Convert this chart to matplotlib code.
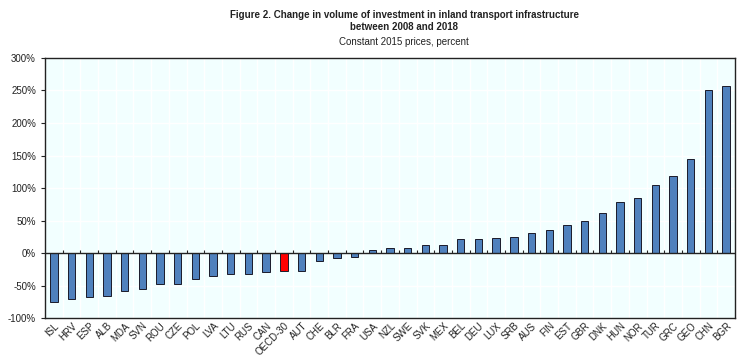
import numpy as np
import matplotlib
matplotlib.use("Agg")
import matplotlib.pyplot as plt
from matplotlib.ticker import FuncFormatter

plt.rcParams["font.family"] = ["Liberation Sans", "DejaVu Sans"]

countries = ["ISL", "HRV", "ESP", "ALB", "MDA", "SVN", "ROU", "CZE", "POL", "LVA",
             "LTU", "RUS", "CAN", "OECD-30", "AUT", "CHE", "BLR", "FRA", "USA", "NZL",
             "SWE", "SVK", "MEX", "BEL", "DEU", "LUX", "SRB", "AUS", "FIN", "EST",
             "GBR", "DNK", "HUN", "NOR", "TUR", "GRC", "GEO", "CHN", "BGR"]
change = [-75, -71, -67, -66, -58, -55, -47, -47, -40, -35,
          -33, -32, -29, -28, -28, -12, -8, -6, 4, 7,
          7, 12, 12, 21, 22, 23, 25, 31, 35, 43,
          50, 61, 79, 85, 105, 118, 145, 251, 257]
highlight = "OECD-30"

BLUE = "#4F81BD"; RED = "#FF0000"; BG = "#F2FFFF"; INK = "#222222"

fig = plt.figure(figsize=(7.5, 3.58), dpi=100)
ax = fig.add_axes([0.06, 0.1117, 0.92, 0.7263])
ax.set_facecolor(BG)

x = np.arange(len(countries))
colors = [RED if c == highlight else BLUE for c in countries]
ax.bar(x, change, width=0.42, color=colors, edgecolor="#1a1a2a", linewidth=0.7, zorder=3)

ax.set_xlim(-0.5, len(countries) - 0.5)
ax.set_ylim(-100, 300)
ax.set_yticks(np.arange(-100, 301, 50))
ax.yaxis.set_major_formatter(FuncFormatter(lambda v, p: f"{v:.0f}%"))

# white grid on category boundaries and y ticks
bounds = np.arange(len(countries) + 1) - 0.5
for b in bounds[1:-1]:
    ax.axvline(b, color="white", lw=1.0, zorder=1)
ax.yaxis.grid(True, color="white", lw=1.0, zorder=1)
ax.set_axisbelow(True)

ax.axhline(0, color=INK, lw=1.0, zorder=4)
ax.vlines(bounds[1:-1], 0, 4, color=INK, lw=0.8, zorder=4)

ax.set_xticks(x)
ax.set_xticklabels(countries, rotation=45, ha="right", rotation_mode="anchor",
                   fontsize=7, color=INK)
ax.tick_params(axis="x", length=0, pad=2)
ax.tick_params(axis="y", labelsize=7, colors=INK, length=3, width=0.8, direction="out")
for s in ax.spines.values():
    s.set_color(INK)
    s.set_linewidth(1.0)

fig.text(0.539, 0.958, "Figure 2. Change in volume of investment in inland transport infrastructure",
         ha="center", va="center", fontsize=7, weight="bold", color=INK)
fig.text(0.539, 0.925, "between 2008 and 2018", ha="center", va="center",
         fontsize=7, weight="bold", color=INK)
fig.text(0.539, 0.8835, "Constant 2015 prices, percent", ha="center", va="center",
         fontsize=7, color=INK)

fig.savefig("out.png", dpi=100)
